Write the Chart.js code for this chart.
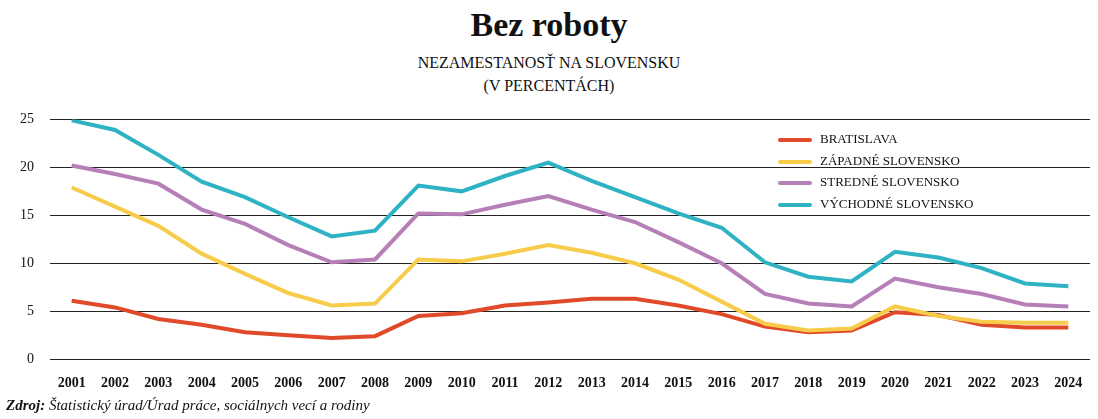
<!DOCTYPE html>
<html>
<head>
<meta charset="utf-8">
<script src="https://cdn.jsdelivr.net/npm/chart.js@4"></script>
<style>
  body { margin: 0; width: 1098px; height: 419px; background: #fff; font-family: "Liberation Serif", "DejaVu Serif", serif; color: #111; position: relative; overflow: hidden; }
  h1 { position: absolute; top: 6px; left: 0; width: 100%; margin: 0; text-align: center; font-size: 34px; font-weight: bold; }
  .sub { position: absolute; top: 51px; left: 0; width: 100%; text-align: center; font-size: 16px; line-height: 23px; }
  #wrap { position: absolute; left: 0; top: 95px; width: 1098px; height: 305px; }
  .legend { position: absolute; left: 778px; top: 128px; font-size: 13px; line-height: 21.5px; }
  .legend span { display: inline-block; width: 34px; height: 4px; margin-right: 8px; vertical-align: middle; border-radius: 2px; }
  .src { position: absolute; left: 6px; top: 397px; font-size: 15px; font-style: italic; }
</style>
</head>
<body>
<h1>Bez roboty</h1>
<div class="sub">NEZAMESTANOSŤ NA SLOVENSKU<br>(V PERCENTÁCH)</div>
<div id="wrap"><canvas id="c"></canvas></div>
<div class="legend">
  <div><span style="background:#e04a2a"></span>BRATISLAVA</div>
  <div><span style="background:#f7cc4a"></span>ZÁPADNÉ SLOVENSKO</div>
  <div><span style="background:#b77fb7"></span>STREDNÉ SLOVENSKO</div>
  <div><span style="background:#2fb3c4"></span>VÝCHODNÉ SLOVENSKO</div>
</div>
<div class="src"><b>Zdroj:</b> Štatistický úrad/Úrad práce, sociálnych vecí a rodiny</div>
<script>
const years = ["2001","2002","2003","2004","2005","2006","2007","2008","2009","2010","2011","2012","2013","2014","2015","2016","2017","2018","2019","2020","2021","2022","2023","2024"]
const bratislava = [6.1,5.4,4.2,3.6,2.8,2.5,2.2,2.4,4.5,4.8,5.6,5.9,6.3,6.3,5.6,4.7,3.4,2.8,3.0,4.9,4.6,3.6,3.3,3.3]
const zapadne = [17.9,15.9,13.9,11.0,8.9,6.9,5.6,5.8,10.4,10.2,11.0,11.9,11.1,10.0,8.3,6.0,3.7,3.0,3.2,5.5,4.5,3.9,3.8,3.8]
const stredne = [20.2,19.3,18.3,15.6,14.1,11.9,10.1,10.4,15.2,15.1,16.1,17.0,15.6,14.3,12.2,10.0,6.8,5.8,5.5,8.4,7.5,6.8,5.7,5.5]
const vychodne = [24.9,23.9,21.3,18.5,16.9,14.8,12.8,13.4,18.1,17.5,19.1,20.5,18.6,16.9,15.2,13.7,10.1,8.6,8.1,11.2,10.6,9.5,7.9,7.6]
const yTicks = [0,5,10,15,20,25]

const ds = (label, data, color) => ({ label, data, borderColor: color, borderWidth: 4, pointRadius: 0, tension: 0, fill: false })

new Chart(document.getElementById("c"), {
  type: "line",
  data: {
    labels: years,
    datasets: [
      ds("VÝCHODNÉ SLOVENSKO", vychodne, "#2fb3c4"),
      ds("STREDNÉ SLOVENSKO", stredne, "#b77fb7"),
      ds("ZÁPADNÉ SLOVENSKO", zapadne, "#f7cc4a"),
      ds("BRATISLAVA", bratislava, "#e04a2a")
    ]
  },
  options: {
    responsive: true,
    maintainAspectRatio: false,
    animation: false,
    layout: { padding: { left: 4, right: 8, top: 10, bottom: 0 } },
    plugins: { legend: { display: false }, tooltip: { enabled: false } },
    scales: {
      x: {
        offset: true,
        grid: { display: false },
        border: { display: false },
        ticks: { color: "#111", font: { family: "Liberation Serif", size: 14, weight: "bold" }, maxRotation: 0, autoSkip: false, padding: 8 }
      },
      y: {
        min: 0, max: 25,
        afterBuildTicks: a => { a.ticks = yTicks.map(v => ({ value: v })) },
        grid: { color: "#222", lineWidth: 1, drawTicks: false },
        border: { display: false },
        ticks: { color: "#111", font: { family: "Liberation Serif", size: 14 }, padding: 16 }
      }
    }
  }
})
</script>
</body>
</html>
